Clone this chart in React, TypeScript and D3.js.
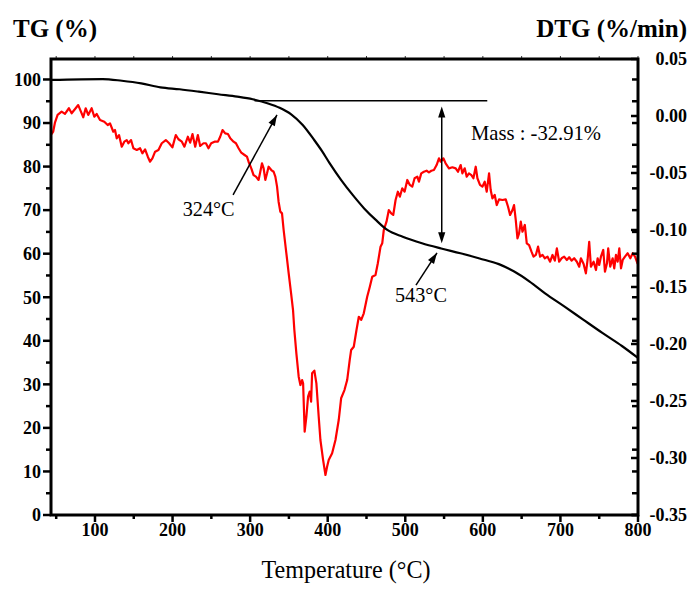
import React from "react";
import * as d3 from "d3";

// ---------- data ----------
const tgTemp = [43.3, 109.9, 134.7, 159.6, 184.3, 209.1, 233.8, 258.7, 283.4, 303.3, 323.2, 338, 352.9, 367.8, 382.6, 392.5, 402.4, 417.4, 432.2, 447, 462, 476.8, 496.7, 521.5, 546.3, 571.1, 595.8, 620.6, 640.4, 660.3, 680.2, 704.9, 729.8, 754.5, 779.3, 800];
const tgValue = [99.9, 100.1, 99.7, 99.1, 98.2, 97.75, 97.2, 96.6, 96.05, 95.45, 94.5, 93.5, 92.0, 89.55, 86.1, 83.6, 80.8, 76.9, 73.5, 70.4, 67.75, 65.45, 63.9, 62.4, 61.2, 60.1, 58.9, 57.6, 55.9, 53.6, 50.9, 47.9, 44.8, 41.75, 38.8, 36.05];

const dtgTemp = [44, 46.1, 48.3, 51.8, 57, 61.3, 66.4, 69.9, 75.1, 78.4, 81.9, 84.9, 88, 91.3, 95.7, 99.1, 102.2, 106.5, 112, 116.4, 119.4, 123.6, 125.8, 128, 131, 134.5, 137.8, 140.9, 143, 146.5, 149.5, 153.9, 158.1, 161.1, 164.6, 168.1, 171, 174, 177.5, 181.8, 186.1, 191.3, 195.6, 199.8, 204.2, 207.6, 212, 215.3, 219.7, 222.7, 225.7, 229.2, 232.6, 235.6, 239.9, 243, 246.3, 249.8, 254.1, 258.5, 261.4, 264.4, 267.9, 271.4, 274.4, 278.6, 281.7, 285.1, 288.6, 292.8, 295.9, 298, 301.5, 304.4, 307.5, 310.9, 313.1, 315.3, 317.4, 319.6, 321.8, 323.8, 327.3, 330.3, 332.5, 334.7, 336.7, 338.9, 341.1, 343.2, 346.7, 349.7, 352.8, 355.3, 357, 359.6, 362.6, 364.8, 367, 368.3, 370.3, 372.5, 374.7, 376.8, 378.6, 379.9, 382.8, 385.4, 388.4, 390.6, 394.1, 397.1, 399.2, 401.3, 405.7, 410, 414.2, 417.3, 421.6, 425.1, 428.4, 430.2, 433.6, 437.1, 440.1, 443.2, 446.5, 450.9, 454.3, 457.4, 461.6, 464.6, 468.1, 470.3, 472.3, 475.8, 478.8, 481.9, 484.5, 487.5, 490.4, 493, 496.1, 499.1, 502.6, 505.9, 509, 512, 515.5, 517.6, 520.6, 524, 527.5, 530.5, 533.6, 536.9, 540.4, 543.4, 545.6, 549.1, 552, 556.3, 560.7, 565, 567.9, 571.4, 573.6, 576.6, 579.2, 582.1, 585.2, 587.8, 590.8, 593, 596.3, 599.4, 602.4, 605, 608, 610.1, 612.3, 615.3, 617.9, 620.9, 625.3, 629.5, 632.5, 635.1, 638.2, 640.2, 642.4, 644.6, 646.7, 648.9, 651.1, 654.1, 656.6, 659.6, 662.7, 665.3, 668.3, 671.2, 673.8, 676.9, 679.9, 683.4, 686.7, 689.8, 692.8, 695.4, 698.4, 701.5, 704.8, 708.3, 711.3, 714.4, 717.7, 721.2, 724.2, 726.4, 729.9, 732.8, 735, 737.1, 739.3, 742.8, 745.8, 748, 750, 752.2, 755.2, 757.4, 760, 761.6, 764.2, 767.3, 769.4, 771.6, 773.8, 775.9, 778.1, 780.3, 783.2, 786.7, 790.1, 793.2, 796.2, 799.6];
const dtgValue = [-0.016, -0.0138, -0.0061, 0.0009, 0.0038, 0.0018, 0.0068, 0.0024, 0.0068, 0.0096, 0.0038, -0.0011, 0.0068, 0.0009, 0.0068, -0.0006, 0.0018, -0.0035, -0.005, -0.0079, -0.0064, -0.0138, -0.0123, -0.0196, -0.0167, -0.0269, -0.0225, -0.0211, -0.0239, -0.0211, -0.0283, -0.0298, -0.0283, -0.0327, -0.0292, -0.0357, -0.0401, -0.0371, -0.0313, -0.0298, -0.0239, -0.0211, -0.0239, -0.0275, -0.0167, -0.0204, -0.0225, -0.0269, -0.0182, -0.0234, -0.0158, -0.0269, -0.0167, -0.0263, -0.0239, -0.0239, -0.0283, -0.0239, -0.0225, -0.0225, -0.0182, -0.0123, -0.0152, -0.0158, -0.0196, -0.0225, -0.0239, -0.0283, -0.0322, -0.0342, -0.0357, -0.0401, -0.0459, -0.0518, -0.0532, -0.0561, -0.0489, -0.0415, -0.0459, -0.0561, -0.0503, -0.0445, -0.0474, -0.0489, -0.0532, -0.062, -0.0752, -0.0839, -0.0854, -0.1, -0.1204, -0.138, -0.1555, -0.1702, -0.1877, -0.2082, -0.2287, -0.236, -0.2316, -0.2345, -0.2769, -0.2638, -0.2462, -0.2418, -0.2506, -0.2257, -0.2234, -0.2345, -0.2638, -0.2842, -0.3018, -0.3149, -0.3076, -0.3018, -0.2959, -0.2842, -0.2667, -0.2476, -0.2404, -0.2316, -0.214, -0.2053, -0.2024, -0.1877, -0.1761, -0.1789, -0.1731, -0.1585, -0.1497, -0.141, -0.1395, -0.1292, -0.1146, -0.1117, -0.1, -0.0927, -0.0825, -0.0854, -0.0868, -0.0737, -0.0664, -0.0708, -0.0634, -0.0664, -0.0561, -0.0605, -0.062, -0.0546, -0.0532, -0.0576, -0.0503, -0.0489, -0.048, -0.0494, -0.048, -0.0474, -0.043, -0.0371, -0.0401, -0.0371, -0.0415, -0.0459, -0.045, -0.0459, -0.0489, -0.043, -0.0503, -0.0459, -0.0532, -0.0503, -0.0518, -0.0546, -0.0445, -0.0546, -0.0605, -0.062, -0.0576, -0.0664, -0.0503, -0.0649, -0.0722, -0.0693, -0.0781, -0.0731, -0.0737, -0.0731, -0.0796, -0.0868, -0.0825, -0.0781, -0.0912, -0.1073, -0.1029, -0.0927, -0.1015, -0.0956, -0.1117, -0.1132, -0.119, -0.1234, -0.1219, -0.1146, -0.1234, -0.1219, -0.1248, -0.1234, -0.1278, -0.1219, -0.1269, -0.1161, -0.1278, -0.1248, -0.1234, -0.1263, -0.1239, -0.1269, -0.1248, -0.1278, -0.1322, -0.1248, -0.1298, -0.138, -0.1263, -0.1103, -0.1322, -0.1278, -0.1351, -0.1248, -0.1307, -0.1234, -0.1175, -0.1366, -0.1292, -0.1161, -0.1322, -0.1248, -0.1336, -0.1219, -0.1278, -0.1161, -0.1336, -0.1263, -0.1234, -0.1204, -0.1248, -0.1204, -0.1234, -0.1298];

const xTicks = [100, 200, 300, 400, 500, 600, 700, 800];
const xMinorTicks = [50, 150, 250, 350, 450, 550, 650, 750];
const tgTicks = [0, 10, 20, 30, 40, 50, 60, 70, 80, 90, 100];
const tgMinorTicks = [5, 15, 25, 35, 45, 55, 65, 75, 85, 95];
const dtgTicks = [0.05, 0, -0.05, -0.1, -0.15, -0.2, -0.25, -0.3, -0.35];
const dtgTickLabels = ["0.05", "0.00", "-0.05", "-0.10", "-0.15", "-0.20", "-0.25", "-0.30", "-0.35"];

// annotations (data units)
const massLine = { t0: 305.7, t1: 605.7, tg: 95.1 };
const massArrow = { t: 547, top: 93.8, bottom: 62.4, label: "Mass : -32.91%", labelT: 584.7, labelTg: 86.1 };
const onsetArrow = { t0: 278, tg0: 73.5, t1: 334.6, tg1: 91.85, label: "324°C", labelT: 213, labelTg: 68.7 };
const midArrow = { t0: 513.8, tg0: 52.8, t1: 540.9, tg1: 60.2, label: "543°C", labelT: 486.7, labelTg: 48.9 };

// ---------- layout ----------
const W = 689, H = 590;
const L = 51, R = 638, T = 59, B = 515;
const FONT = "'Liberation Serif', 'Times New Roman', serif";

const x = d3.scaleLinear().domain([43.3, 800]).range([L, R]);
const yTg = d3.scaleLinear().domain([0, 104.7]).range([B, T]);
const yDtg = d3.scaleLinear().domain([-0.35, 0.05]).range([B, T]);

function head(x0: number, y0: number, x1: number, y1: number, len = 11, hw = 3.6) {
  const dx = x1 - x0, dy = y1 - y0;
  const d = Math.hypot(dx, dy);
  const ux = dx / d, uy = dy / d;
  const bx = x1 - ux * len, by = y1 - uy * len;
  return `${x1},${y1} ${bx - uy * hw},${by + ux * hw} ${bx + uy * hw},${by - ux * hw}`;
}

export default function App() {
  const tgLine = d3.line<number>().x((_, i) => x(tgTemp[i])).y((d) => yTg(d)).curve(d3.curveMonotoneX);
  const dtgLine = d3.line<number>().x((_, i) => x(dtgTemp[i])).y((d) => yDtg(d));

  const ma = { x: x(massArrow.t), y0: yTg(massArrow.top), y1: yTg(massArrow.bottom) };
  const oa = { x0: x(onsetArrow.t0), y0: yTg(onsetArrow.tg0), x1: x(onsetArrow.t1), y1: yTg(onsetArrow.tg1) };
  const mi = { x0: x(midArrow.t0), y0: yTg(midArrow.tg0), x1: x(midArrow.t1), y1: yTg(midArrow.tg1) };

  return (
    <svg width={W} height={H} style={{ position: "absolute", left: 0, top: 0, background: "#fff" }} fontFamily={FONT}>
      <defs>
        <clipPath id="plot">
          <rect x={L} y={T} width={R - L} height={B - T} />
        </clipPath>
      </defs>

      {/* curves */}
      <g clipPath="url(#plot)">
        <path d={dtgLine(dtgValue) || ""} fill="none" stroke="#ff0000" strokeWidth={2.2} strokeLinejoin="round" />
        <path d={tgLine(tgValue) || ""} fill="none" stroke="#000" strokeWidth={2.2} />
      </g>

      {/* annotations */}
      <line x1={x(massLine.t0)} x2={x(massLine.t1)} y1={yTg(massLine.tg)} y2={yTg(massLine.tg)} stroke="#000" strokeWidth={1.5} />
      <line x1={ma.x} x2={ma.x} y1={ma.y0 + 8} y2={ma.y1 - 8} stroke="#000" strokeWidth={1.5} />
      <polygon points={head(ma.x, ma.y1, ma.x, ma.y0)} fill="#000" />
      <polygon points={head(ma.x, ma.y0, ma.x, ma.y1)} fill="#000" />
      <text x={x(massArrow.labelT)} y={yTg(massArrow.labelTg)} fontSize={22} textLength={130} lengthAdjust="spacingAndGlyphs">{massArrow.label}</text>

      <line x1={oa.x0} y1={oa.y0} x2={oa.x1} y2={oa.y1} stroke="#000" strokeWidth={1.5} />
      <polygon points={head(oa.x0, oa.y0, oa.x1, oa.y1)} fill="#000" />
      <text x={x(onsetArrow.labelT)} y={yTg(onsetArrow.labelTg)} fontSize={22} textLength={52} lengthAdjust="spacingAndGlyphs">{onsetArrow.label}</text>

      <line x1={mi.x0} y1={mi.y0} x2={mi.x1} y2={mi.y1} stroke="#000" strokeWidth={1.5} />
      <polygon points={head(mi.x0, mi.y0, mi.x1, mi.y1)} fill="#000" />
      <text x={x(midArrow.labelT)} y={yTg(midArrow.labelTg)} fontSize={22} textLength={52} lengthAdjust="spacingAndGlyphs">{midArrow.label}</text>

      {/* top axis minor ticks */}
      {[...xMinorTicks, ...xTicks].map((t) => (
        <line key={"tt" + t} x1={x(t)} x2={x(t)} y1={T} y2={T - 3} stroke="#000" strokeWidth={0.8} />
      ))}

      {/* bottom axis */}
      {xTicks.map((t) => (
        <g key={"xb" + t}>
          <line x1={x(t)} x2={x(t)} y1={B} y2={B + 7} stroke="#000" strokeWidth={2.5} />
          <text x={x(t)} y={536} textAnchor="middle" fontSize={18} fontWeight="bold">{t}</text>
        </g>
      ))}
      {xMinorTicks.map((t) => (
        <line key={"xm" + t} x1={x(t)} x2={x(t)} y1={B} y2={B + 4} stroke="#000" strokeWidth={2.5} />
      ))}

      {/* left axis */}
      {tgTicks.map((t) => (
        <g key={"yl" + t}>
          <line x1={L} x2={L - 8} y1={yTg(t)} y2={yTg(t)} stroke="#000" strokeWidth={2.5} />
          <text x={41} y={yTg(t)} dy="0.35em" textAnchor="end" fontSize={18} fontWeight="bold">{t}</text>
        </g>
      ))}
      {tgMinorTicks.map((t) => (
        <line key={"ylm" + t} x1={L} x2={L - 5} y1={yTg(t)} y2={yTg(t)} stroke="#000" strokeWidth={2.5} />
      ))}

      {/* right axis: mirrored TG ticks + DTG ticks, inward */}
      {[...tgTicks, ...tgMinorTicks].map((t) => (
        <line key={"yrm" + t} x1={R} x2={R - 6} y1={yTg(t)} y2={yTg(t)} stroke="#000" strokeWidth={2.5} />
      ))}
      {dtgTicks.map((t, i) => (
        <g key={"yr" + i}>
          <line x1={R} x2={R - 7} y1={yDtg(t)} y2={yDtg(t)} stroke="#000" strokeWidth={2.5} />
          <text x={687} y={yDtg(t)} dy="0.35em" textAnchor="end" fontSize={18} fontWeight="bold">{dtgTickLabels[i]}</text>
        </g>
      ))}

      {/* frame */}
      <rect x={L} y={T} width={R - L} height={B - T} fill="none" stroke="#000" strokeWidth={3} />

      {/* titles */}
      <text x={13} y={37} fontSize={25} fontWeight="bold">TG (%)</text>
      <text x={687} y={37} fontSize={25} fontWeight="bold" textAnchor="end">DTG (%/min)</text>
      <text x={346} y={578} fontSize={25} textAnchor="middle" textLength={169} lengthAdjust="spacingAndGlyphs">Temperature (°C)</text>
    </svg>
  );
}
